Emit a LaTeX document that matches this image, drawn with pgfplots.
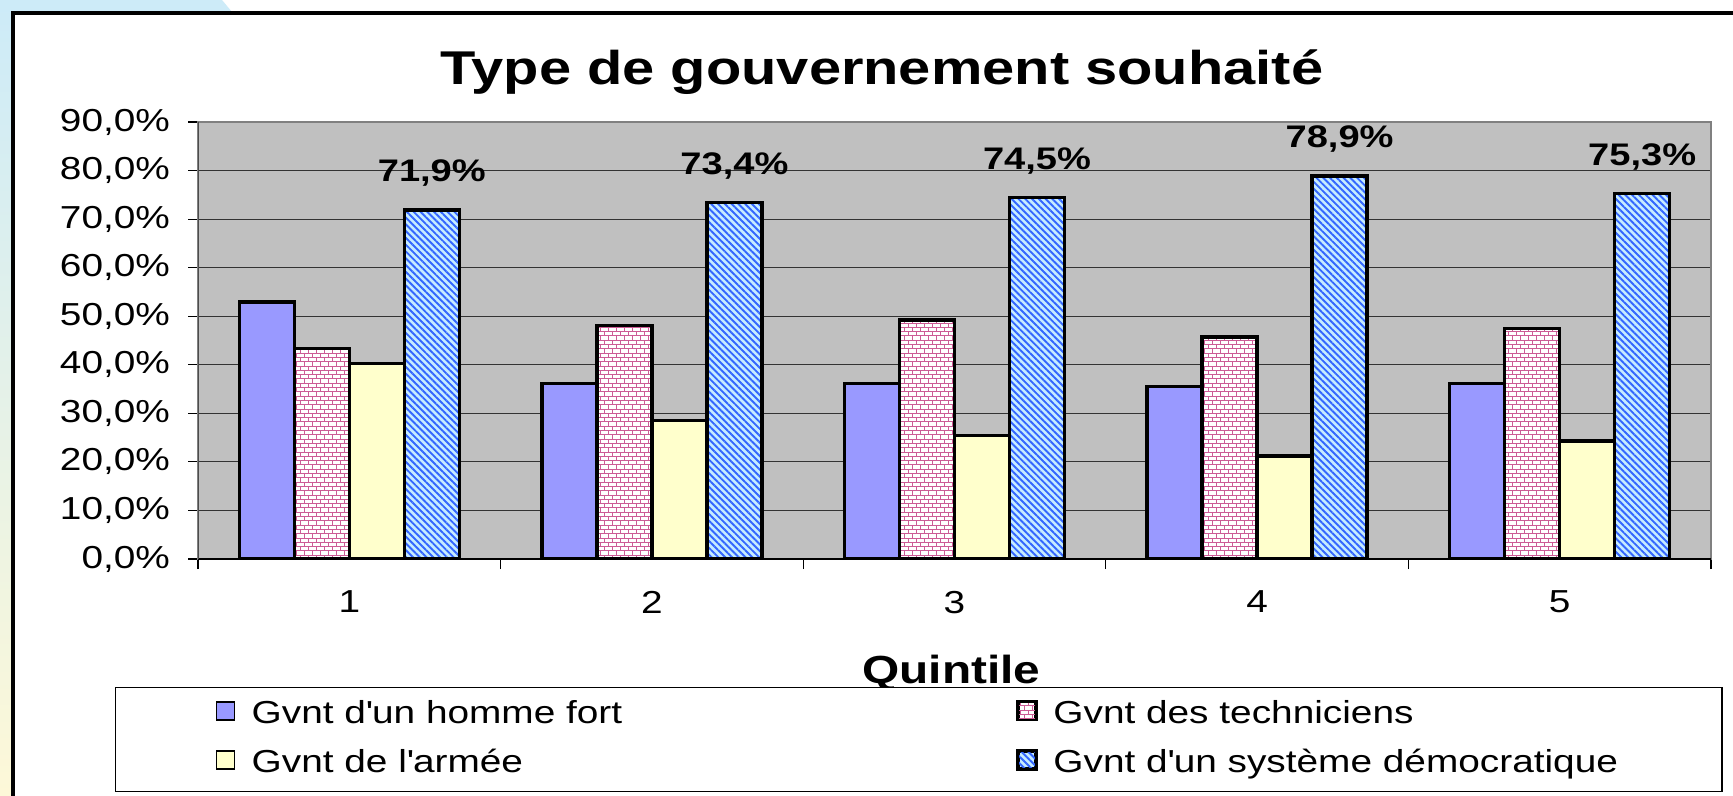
\documentclass[border=0pt]{standalone}
\usepackage{fontspec}
\setmainfont{Liberation Sans}[FakeStretch=1.22]
\usepackage{pgfplots}
\pgfplotsset{compat=1.18}
\usetikzlibrary{patterns,patterns.meta}

\definecolor{barblue}{HTML}{9999FF}
\definecolor{baryellow}{HTML}{FFFFCC}
\definecolor{plotgray}{HTML}{C0C0C0}
\definecolor{brickcol}{HTML}{CC5C96}
\definecolor{hatchblue}{HTML}{3366FF}
\definecolor{hatchbg}{HTML}{C6ECFF}
\definecolor{bgblue}{HTML}{CDEBF8}
\definecolor{bgyellow}{HTML}{FDF8D8}

\pgfdeclarepatternformonly{mybricks}{\pgfqpoint{-0.3pt}{-0.3pt}}{\pgfqpoint{4.3pt}{4.6pt}}{\pgfqpoint{4pt}{4.3pt}}{%
  \pgfsetlinewidth{0.45pt}
  \pgfpathmoveto{\pgfqpoint{0pt}{0pt}}\pgfpathlineto{\pgfqpoint{4pt}{0pt}}
  \pgfpathmoveto{\pgfqpoint{0pt}{2.15pt}}\pgfpathlineto{\pgfqpoint{4pt}{2.15pt}}
  \pgfpathmoveto{\pgfqpoint{0pt}{0pt}}\pgfpathlineto{\pgfqpoint{0pt}{2.15pt}}
  \pgfpathmoveto{\pgfqpoint{2pt}{2.15pt}}\pgfpathlineto{\pgfqpoint{2pt}{4.3pt}}
  \pgfusepath{stroke}}

\pgfkeys{/pgf/number format/assume math mode=true}

\begin{document}
\begin{tikzpicture}
\useasboundingbox (0,0) rectangle (866.5pt,-398pt);
\fill[white] (0,0) rectangle (866.5pt,-398pt);
\shade[top color=bgblue, bottom color=bgyellow] (0,0) rectangle (6pt,-398pt);
\fill[bgblue] (0,0) -- (111pt,0) -- (116pt,-6pt) -- (0,-6pt) -- cycle;
\draw[black, line width=2pt] (6.5pt,-410pt) -- (6.5pt,-6.5pt) -- (880pt,-6.5pt);

\begin{axis}[
  at={(99pt,-279.5pt)}, anchor=south west,
  width=756.5pt, height=218.5pt, scale only axis,
  ybar=0pt, bar width=27.5pt,
  xmin=0.5, xmax=5.5, ymin=0, ymax=90,
  xtick={1,2,3,4,5}, xticklabels={1,2,3,4,5},
  minor xtick={0.5,1.5,2.5,3.5,4.5,5.5},
  ytick={0,10,20,30,40,50,60,70,80,90},
  yticklabels={{0,0\%},{10,0\%},{20,0\%},{30,0\%},{40,0\%},{50,0\%},{60,0\%},{70,0\%},{80,0\%},{90,0\%}},
  minor ytick={0,10,20,30,40,50,60,70,80,90},
  major tick length=0pt, minor tick length=5pt,
  tick align=outside, tick pos=left,
  minor tick style={black, line width=0.6pt},
  axis background/.style={fill=plotgray},
  axis line style={draw=black!50, line width=1pt},
  ymajorgrids, major grid style={black!80, line width=0.6pt},
  tick label style={font=\fontsize{15.9}{19}\selectfont, black},
  yticklabel style={xshift=-10.5pt},
  xticklabel style={yshift=-12.5pt},
  title={Type de gouvernement souhaité},
  title style={at={(axis description cs:0.452,1.0595)}, anchor=base, font=\bfseries\fontsize{23.7}{28}\selectfont},
  xlabel={Quintile},
  xlabel style={at={(axis description cs:0.498,-0.2838)}, anchor=base, font=\bfseries\fontsize{19.6}{23}\selectfont},
  legend columns=2,
  legend cell align=left,
  legend image code/.code={\draw[#1, line width=0.8pt] (0pt,-2.5pt) rectangle (9pt,6.5pt);},
  legend style={at={(axis description cs:-0.0549,-0.293)}, anchor=north west,
    draw=black, line width=0.6pt, fill=white,
    font=\fontsize{15.9}{19}\selectfont,
    inner xsep=50pt, inner ysep=4.2pt,
    nodes={text height=11.5pt, text depth=3.2pt, inner ysep=2pt},
    row sep=6pt,
    /tikz/every odd column/.append style={column sep=6.3pt},
    /tikz/every even column/.append style={column sep=195.5pt}},
]
\addplot[draw=black, line width=1.7pt, fill=barblue]
  coordinates {(1,52.9) (2,36.2) (3,36.2) (4,35.5) (5,36.1)};
\addlegendentry{Gvnt d\textquotesingle{}un homme fort}
\addplot[draw=black, line width=1.7pt, pattern=mybricks, pattern color=brickcol, preaction={fill=white}]
  coordinates {(1,43.4) (2,48.1) (3,49.2) (4,45.7) (5,47.5)};
\addlegendentry{Gvnt des techniciens}
\addplot[draw=black, line width=1.7pt, fill=baryellow]
  coordinates {(1,40.3) (2,28.5) (3,25.4) (4,21.2) (5,24.3)};
\addlegendentry{Gvnt de l\textquotesingle{}armée}
\addplot[draw=black, line width=1.7pt,
  pattern={Lines[angle=-45,distance=2.4pt,line width=0.95pt]}, pattern color=hatchblue,
  preaction={fill=hatchbg},
  point meta=y,
  nodes near coords={\pgfmathprintnumber[fixed,fixed zerofill,precision=1,use comma]{\pgfplotspointmeta}\%},
  every node near coord/.append style={anchor=base, yshift=14pt, text=black, font=\bfseries\fontsize{15.6}{18}\selectfont}]
  coordinates {(1,71.9) (2,73.4) (3,74.5) (4,78.9) (5,75.3)};
\addlegendentry{Gvnt d\textquotesingle{}un système démocratique}
\draw[black, line width=0.8pt] (rel axis cs:0,0) -- (rel axis cs:1,0);
\draw[black!70, line width=0.6pt] (rel axis cs:0,0) -- (rel axis cs:0,1);
\end{axis}
\end{tikzpicture}
\end{document}
